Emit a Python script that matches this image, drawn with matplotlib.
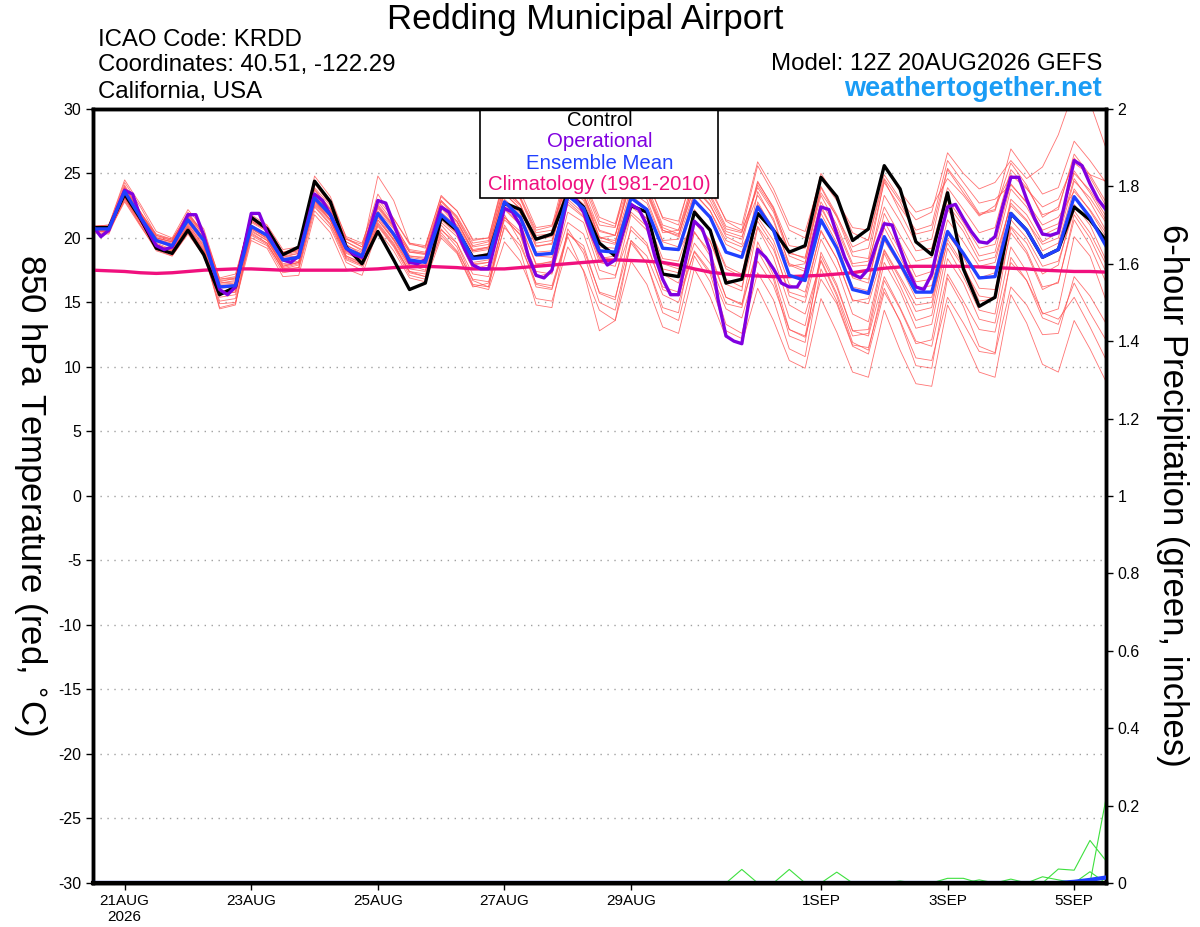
import numpy as np
import pandas as pd
import matplotlib
matplotlib.use('Agg')
import matplotlib.pyplot as plt
from matplotlib.patches import Rectangle

plt.rcParams['font.family'] = ['Liberation Sans', 'DejaVu Sans']
plt.rcParams['axes.unicode_minus'] = False

# ---------------- data (850 hPa temperature, deg C) ----------------
start = '2026-08-20 12:00'

control = [20.8, 20.8, 23.4, 21.5, 19.2, 18.8, 20.6, 18.7, 15.6, 16.2, 21.6, 20.7, 18.7, 19.3,
           24.4, 22.8, 19.3, 18.0, 20.5, 18.3, 16.0, 16.5, 21.6, 20.6, 18.5, 18.7, 22.7, 22.2,
           19.9, 20.3, 23.5, 22.4, 19.6, 18.6, 22.5, 22.0, 17.2, 17.0, 22.0, 20.6, 16.5, 16.8,
           21.9, 20.6, 18.9, 19.4, 24.7, 23.2, 19.8, 20.7, 25.6, 23.8, 19.7, 18.7, 23.5, 17.6,
           14.7, 15.4, 21.9, 20.6, 18.5, 19.1, 22.4, 21.4, 19.8]

# operational run is 3-hourly
operational = [20.9, 20.1, 20.6, 22.2, 23.7, 23.4, 21.6, 20.5, 19.4, 19.1, 19.3, 20.5, 21.8, 21.8,
               20.2, 18.0, 16.0, 15.6, 16.2, 19.0, 21.9, 21.9, 20.4, 19.3, 18.3, 18.1, 18.6, 21.0,
               23.4, 22.9, 21.8, 20.5, 19.2, 18.7, 18.5, 20.7, 22.9, 22.7, 21.1, 19.5, 18.1, 18.0,
               18.3, 20.3, 22.4, 22.0, 20.5, 19.1, 17.9, 17.6, 17.6, 20.0, 22.3, 22.0, 21.0, 18.6,
               17.1, 16.9, 17.5, 20.3, 23.2, 23.0, 22.0, 20.3, 18.9, 17.9, 18.3, 20.5, 22.6, 22.2,
               21.0, 18.6, 16.8, 15.6, 15.6, 18.5, 21.3, 20.7, 19.0, 15.2, 12.4, 12.0, 11.8, 15.5,
               19.1, 18.5, 17.6, 16.5, 16.2, 16.2, 17.2, 19.8, 22.4, 22.2, 20.3, 18.5, 17.2, 16.9,
               17.6, 19.5, 21.1, 21.0, 19.2, 17.5, 16.2, 16.0, 17.2, 20.0, 22.4, 22.6, 21.5, 20.5,
               19.7, 19.6, 20.1, 22.5, 24.7, 24.7, 23.0, 21.5, 20.3, 20.2, 20.4, 23.2, 26.0, 25.6,
               24.2, 23.0, 22.2]

ens_mean = [20.7, 20.7, 23.6, 21.6, 19.8, 19.4, 21.4, 19.8, 16.2, 16.3, 20.9, 20.2, 18.3, 18.5,
            23.1, 21.8, 19.2, 18.6, 21.9, 20.3, 18.3, 18.1, 21.8, 20.7, 18.4, 18.5, 22.8, 21.6,
            18.7, 18.8, 23.3, 22.3, 19.0, 18.9, 23.1, 22.2, 19.2, 19.1, 22.9, 21.6, 18.9, 18.5,
            22.4, 20.6, 17.1, 16.7, 21.4, 19.2, 16.0, 15.7, 20.1, 18.0, 15.8, 15.8, 20.5, 18.8,
            16.9, 17.0, 21.9, 20.6, 18.5, 19.1, 23.2, 21.6, 19.4]

climo = [17.5, 17.45, 17.4, 17.3, 17.25, 17.3, 17.4, 17.5, 17.55, 17.6, 17.6, 17.55, 17.5, 17.5,
         17.5, 17.5, 17.5, 17.55, 17.6, 17.7, 17.75, 17.8, 17.75, 17.7, 17.6, 17.6, 17.6, 17.7,
         17.8, 17.9, 18.0, 18.1, 18.2, 18.3, 18.25, 18.2, 18.1, 17.9, 17.6, 17.35, 17.2, 17.1,
         17.05, 17.0, 17.0, 17.05, 17.1, 17.2, 17.3, 17.5, 17.65, 17.75, 17.8, 17.8, 17.8, 17.8,
         17.75, 17.7, 17.65, 17.6, 17.5, 17.45, 17.4, 17.4, 17.35]

# ensemble members, one sublist per day (12Z start, then 00Z/06Z/12Z/18Z)
members = [
    [[20.9, 21.0], [24.3, 22.4, 20.2, 19.8], [22.0, 20.3, 16.6, 16.9], [21.6, 20.6, 18.9, 19.2], [24.2, 22.6, 19.9, 19.5], [23.4, 21.5, 19.6, 19.4], [23.2, 22.1, 19.8, 20.0], [24.6, 23.1, 20.4, 20.6], [25.3, 24.1, 21.0, 20.8], [25.8, 24.6, 21.5, 21.0], [25.6, 24.0, 21.3, 20.6], [25.6, 23.4, 20.6, 20.0], [25.0, 23.1, 20.4, 19.8], [24.6, 22.8, 20.3, 20.6], [25.4, 23.8, 21.9, 22.2], [26.9, 25.2, 23.4, 23.9], [27.5, 26.0, 24.3]],
    [[20.6, 20.6], [23.0, 21.2, 19.2, 18.9], [21.1, 19.3, 15.7, 15.8], [20.4, 19.6, 17.6, 17.7], [22.4, 21.0, 18.3, 17.8], [20.9, 19.3, 17.1, 16.8], [20.4, 19.0, 16.8, 16.6], [20.8, 19.4, 16.5, 16.3], [20.4, 19.1, 15.8, 15.4], [19.8, 18.6, 15.6, 15.0], [19.0, 17.4, 14.5, 13.8], [18.2, 16.3, 12.9, 12.3], [16.8, 14.9, 11.6, 11.0], [15.8, 13.6, 10.7, 10.5], [15.4, 13.4, 11.2, 11.0], [16.2, 14.8, 12.5, 12.6], [17.0, 15.5, 13.4]],
    [[20.5, 20.4], [23.9, 21.9, 20.2, 19.9], [21.8, 20.4, 16.9, 17.2], [21.6, 20.9, 18.9, 19.0], [23.8, 22.2, 19.5, 18.7], [22.3, 20.8, 18.9, 18.8], [22.9, 21.6, 19.4, 19.7], [24.0, 22.6, 19.9, 20.1], [24.7, 23.3, 20.0, 19.8], [22.7, 21.5, 18.0, 17.6], [21.3, 19.8, 16.4, 15.9], [22.8, 20.6, 17.8, 18.0], [23.9, 21.6, 18.6, 18.4], [24.5, 22.0, 19.6, 19.9], [25.3, 23.5, 21.8, 22.1], [25.8, 24.1, 21.6, 22.4], [26.2, 24.7, 22.5]],
    [[20.8, 20.9], [23.2, 21.4, 19.5, 19.0], [20.8, 19.1, 15.4, 15.6], [20.2, 19.5, 17.6, 17.9], [22.6, 21.3, 18.8, 18.3], [21.8, 20.1, 17.9, 17.5], [21.2, 20.1, 17.6, 17.9], [21.6, 20.5, 17.4, 17.2], [22.0, 21.2, 17.5, 17.1], [20.6, 19.4, 16.2, 15.8], [19.6, 18.0, 14.9, 14.6], [19.3, 17.6, 13.8, 13.2], [18.6, 16.2, 12.8, 12.4], [17.0, 14.6, 12.0, 11.6], [17.2, 15.1, 12.9, 12.7], [18.1, 16.7, 13.8, 13.3], [16.5, 14.2, 12.1]],
    [[20.6, 20.7], [23.4, 21.2, 19.6, 19.1], [21.2, 19.5, 15.9, 16.0], [20.8, 19.9, 17.8, 18.1], [22.9, 21.4, 18.4, 17.9], [21.2, 19.6, 17.4, 17.0], [20.2, 18.9, 16.3, 16.0], [19.7, 18.2, 15.3, 15.1], [19.3, 17.5, 14.4, 13.6], [18.2, 16.4, 13.1, 12.6], [17.6, 15.4, 12.3, 11.8], [16.1, 13.6, 10.5, 9.9], [15.3, 12.7, 9.6, 9.2], [14.4, 11.3, 8.7, 8.5], [14.8, 12.3, 9.6, 9.2], [15.6, 13.4, 10.2, 9.6], [13.6, 11.4, 8.9]],
    [[20.9, 20.9], [24.0, 22.0, 20.3, 19.9], [21.7, 20.2, 16.5, 16.7], [21.4, 20.7, 18.8, 19.0], [23.7, 22.3, 19.9, 19.3], [22.6, 21.0, 19.1, 18.9], [22.8, 21.5, 19.3, 19.5], [24.1, 23.0, 20.2, 20.3], [25.0, 23.7, 20.6, 20.2], [24.9, 23.8, 20.8, 20.3], [24.0, 22.6, 20.1, 19.5], [24.3, 22.4, 19.4, 19.2], [23.5, 21.7, 19.3, 19.9], [24.9, 23.0, 21.4, 22.0], [26.6, 25.0, 23.8, 24.3], [26.0, 24.6, 25.5, 28.0], [31.5, 30.5, 27.0]],
    [[20.7, 20.6], [23.7, 21.8, 19.9, 19.6], [21.6, 20.0, 16.4, 16.5], [21.0, 20.3, 18.5, 18.6], [23.0, 21.7, 19.0, 18.4], [22.0, 20.4, 18.5, 18.3], [22.3, 21.0, 18.9, 19.1], [23.4, 22.3, 19.4, 19.5], [24.5, 23.4, 20.1, 19.6], [23.9, 23.0, 19.8, 19.9], [23.5, 22.1, 19.8, 19.3], [21.6, 19.8, 16.4, 15.8], [20.5, 18.4, 15.2, 14.9], [19.1, 17.0, 14.8, 15.0], [20.3, 18.6, 16.9, 17.3], [23.0, 21.8, 19.7, 20.4], [24.6, 22.8, 20.6]],
    [[20.6, 20.5], [23.1, 21.0, 19.3, 18.8], [20.6, 19.0, 15.1, 15.3], [20.0, 19.4, 17.3, 17.5], [22.1, 20.8, 18.1, 17.5], [21.0, 19.4, 17.4, 17.2], [20.6, 19.6, 17.2, 17.0], [21.4, 20.3, 17.0, 17.3], [21.2, 20.3, 16.8, 16.9], [21.8, 20.6, 17.2, 16.5], [20.4, 18.9, 15.4, 14.8], [20.8, 18.5, 14.8, 14.1], [18.2, 15.5, 11.9, 11.3], [16.7, 14.5, 11.8, 12.1], [18.4, 16.5, 13.7, 13.4], [19.3, 17.4, 14.1, 14.5], [20.1, 18.6, 15.2]],
    [[20.8, 20.8], [23.5, 21.7, 20.0, 19.7], [21.9, 20.4, 16.8, 16.9], [21.3, 20.6, 18.7, 19.1], [23.9, 22.5, 19.7, 19.0], [24.8, 22.9, 19.6, 19.2], [22.9, 21.7, 19.6, 19.8], [24.4, 23.2, 20.6, 20.9], [25.7, 24.6, 21.6, 21.1], [25.4, 24.5, 21.6, 21.3], [25.2, 23.7, 21.4, 21.0], [25.9, 23.8, 21.0, 20.5], [24.6, 22.9, 20.8, 20.6], [25.6, 23.6, 22.0, 22.4], [24.6, 23.3, 21.7, 22.5], [24.9, 23.8, 22.4, 23.0], [25.8, 24.9, 24.4]],
    [[20.5, 20.5], [22.8, 20.9, 19.1, 18.6], [20.3, 18.6, 14.9, 15.0], [19.8, 19.2, 17.0, 17.1], [21.8, 20.4, 17.6, 17.1], [20.6, 19.0, 16.9, 16.6], [20.0, 18.8, 16.2, 16.5], [21.6, 20.2, 16.4, 16.1], [20.3, 19.4, 15.7, 15.2], [20.9, 19.6, 16.0, 15.5], [18.9, 17.2, 13.3, 12.6], [17.3, 15.2, 11.4, 10.8], [17.6, 15.1, 11.7, 11.5], [16.1, 13.5, 10.1, 9.9], [16.9, 14.7, 11.6, 11.1], [18.5, 16.7, 14.2, 13.7], [15.4, 13.1, 10.6]],
    [[20.7, 20.8], [23.8, 21.9, 20.0, 19.7], [21.5, 19.9, 16.3, 16.4], [21.2, 20.5, 18.6, 18.8], [23.4, 22.0, 19.4, 18.9], [22.1, 20.7, 18.6, 18.4], [22.0, 20.9, 18.6, 18.8], [23.0, 21.9, 18.9, 19.0], [23.8, 22.6, 19.3, 19.2], [23.6, 22.7, 19.7, 19.3], [23.4, 22.1, 19.5, 18.9], [22.6, 20.8, 17.2, 16.6], [21.9, 19.6, 16.2, 15.9], [20.8, 18.5, 16.1, 16.3], [21.4, 19.7, 17.8, 18.1], [22.7, 21.4, 19.0, 19.6], [23.8, 22.1, 20.1]],
    [[20.4, 20.3], [23.1, 21.3, 19.4, 19.0], [20.9, 19.0, 14.6, 14.9], [20.5, 19.8, 17.7, 18.0], [22.9, 21.6, 18.6, 18.0], [21.6, 19.9, 17.8, 17.7], [21.5, 20.4, 17.9, 18.1], [22.3, 21.1, 18.0, 18.1], [22.6, 21.6, 18.1, 17.8], [22.0, 20.9, 17.6, 17.3], [22.2, 20.6, 17.6, 17.0], [23.6, 21.3, 18.0, 17.6], [22.5, 20.0, 17.0, 16.8], [21.3, 19.0, 16.6, 16.8], [22.2, 20.5, 18.2, 18.5], [22.5, 21.3, 19.5, 20.0], [24.4, 23.1, 21.2]],
    [[20.9, 21.0], [24.5, 22.6, 20.5, 20.0], [22.2, 20.7, 16.8, 17.0], [21.8, 21.0, 19.1, 19.3], [24.4, 22.9, 20.1, 19.6], [23.0, 21.5, 19.5, 19.3], [23.3, 22.1, 19.9, 20.0], [24.8, 23.6, 20.8, 21.0], [24.2, 23.3, 20.5, 20.2], [24.3, 23.4, 20.4, 20.6], [24.8, 23.4, 20.9, 20.5], [23.9, 22.0, 18.6, 18.1], [22.8, 20.7, 17.8, 17.9], [23.3, 21.3, 19.0, 19.2], [23.9, 22.2, 20.4, 20.8], [25.3, 23.9, 21.8, 22.2], [26.5, 24.9, 22.8]],
    [[20.6, 20.6], [23.3, 21.3, 19.4, 19.1], [21.0, 19.4, 15.8, 15.9], [20.6, 19.8, 17.9, 18.1], [22.8, 21.4, 18.6, 18.1], [21.4, 19.8, 17.6, 17.4], [20.7, 19.3, 16.4, 16.2], [21.0, 19.0, 14.8, 14.6], [20.7, 18.8, 15.0, 14.4], [19.6, 18.0, 14.2, 13.6], [18.6, 16.6, 12.8, 12.2], [19.7, 17.1, 12.9, 12.4], [18.3, 15.7, 12.4, 12.6], [18.1, 15.9, 13.0, 13.3], [19.2, 17.0, 14.4, 14.1], [20.8, 19.0, 16.2, 16.5], [21.8, 20.0, 17.4]],
    [[20.8, 20.7], [23.6, 21.7, 19.9, 19.5], [21.3, 19.7, 16.1, 16.2], [20.9, 20.1, 18.2, 18.4], [22.9, 21.6, 19.0, 18.4], [21.7, 20.1, 18.1, 17.9], [21.6, 20.4, 18.1, 18.3], [22.6, 21.5, 18.6, 18.5], [22.8, 21.7, 18.4, 18.6], [22.4, 21.5, 18.4, 18.2], [22.0, 20.6, 17.8, 17.2], [21.3, 19.4, 15.5, 15.0], [19.9, 17.6, 14.1, 13.5], [19.0, 16.8, 14.3, 14.6], [20.4, 18.5, 16.1, 16.0], [20.9, 19.6, 17.2, 17.9], [22.6, 21.0, 18.3]],
    [[20.5, 20.5], [22.9, 21.0, 19.0, 18.6], [20.4, 18.9, 14.5, 14.8], [20.7, 20.0, 17.8, 18.1], [23.3, 22.0, 19.2, 18.8], [22.5, 20.9, 18.6, 18.5], [22.6, 21.3, 19.0, 19.3], [23.5, 22.2, 19.3, 19.6], [24.3, 23.1, 20.0, 20.2], [24.4, 23.5, 20.6, 20.2], [23.9, 22.5, 20.3, 19.9], [24.4, 22.3, 18.8, 18.5], [23.3, 21.0, 18.0, 18.2], [22.4, 20.2, 18.2, 18.5], [23.0, 21.2, 19.2, 19.5], [24.2, 22.7, 20.6, 21.1], [25.0, 23.7, 21.7]],
    [[20.7, 20.7], [23.5, 21.5, 19.7, 19.3], [21.4, 19.8, 16.2, 16.3], [20.7, 20.0, 18.0, 18.2], [22.7, 21.4, 18.9, 18.3], [21.4, 19.9, 17.9, 17.8], [21.4, 20.3, 18.0, 18.1], [22.2, 21.0, 17.9, 18.2], [23.0, 21.9, 18.5, 18.3], [23.3, 22.3, 19.2, 19.0], [21.2, 19.7, 16.8, 16.2], [20.9, 19.1, 15.8, 15.4], [20.6, 18.4, 15.1, 15.3], [19.8, 17.8, 15.3, 15.4], [19.6, 17.7, 15.5, 15.3], [21.4, 20.0, 17.8, 18.2], [22.1, 20.4, 18.0]],
    [[20.8, 20.9], [24.1, 22.0, 20.0, 19.7], [21.6, 20.0, 16.5, 16.6], [21.5, 20.8, 18.7, 18.9], [24.8, 23.2, 20.0, 19.3], [22.8, 21.2, 19.0, 18.8], [22.4, 21.2, 19.0, 19.2], [23.8, 22.6, 19.6, 19.8], [23.9, 22.9, 19.8, 19.5], [25.1, 24.1, 21.0, 20.6], [24.3, 22.9, 20.5, 20.1], [23.3, 21.5, 17.9, 17.4], [22.3, 20.1, 16.9, 16.5], [21.9, 19.6, 17.0, 17.4], [22.6, 20.9, 18.6, 18.9], [23.8, 22.4, 20.2, 20.8], [25.2, 23.5, 21.4]],
    [[20.6, 20.6], [23.2, 21.2, 19.5, 19.0], [20.9, 19.2, 15.6, 15.8], [20.3, 19.6, 17.5, 17.7], [22.5, 21.1, 18.5, 17.9], [21.1, 19.5, 17.3, 17.0], [21.0, 19.6, 16.7, 16.2], [21.8, 19.7, 16.2, 16.0], [20.1, 17.4, 12.8, 13.6], [19.8, 18.0, 14.6, 14.2], [20.5, 18.6, 15.4, 14.9], [19.0, 16.8, 12.4, 11.9], [18.9, 16.4, 12.8, 12.9], [18.8, 16.3, 13.6, 14.0], [19.9, 17.9, 15.1, 15.3], [20.4, 18.8, 16.0, 16.6], [21.4, 19.4, 16.6]],
    [[20.9, 20.8], [23.9, 22.0, 20.1, 19.8], [21.8, 20.2, 16.7, 16.8], [21.3, 20.6, 18.5, 18.8], [23.4, 22.2, 19.7, 19.1], [22.4, 20.9, 18.9, 18.7], [22.4, 21.3, 19.1, 19.3], [23.6, 22.5, 20.0, 20.3], [25.5, 24.4, 21.3, 20.9], [24.8, 23.7, 20.6, 20.1], [24.6, 23.2, 20.7, 20.4], [24.1, 22.2, 18.9, 18.4], [24.0, 21.8, 18.9, 19.2], [24.3, 22.4, 20.6, 21.0], [26.0, 24.3, 22.7, 23.0], [24.1, 22.8, 21.0, 21.6], [23.6, 22.2, 20.4]],
]

# 6-hour precipitation (inches): nonzero steps of each member, keyed by 6h step index
pcp_member_steps = [
    {18: 0.004}, {41: 0.035}, {44: 0.035}, {47: 0.028}, {51: 0.005},
    {54: 0.012, 55: 0.012}, {56: 0.008}, {58: 0.010}, {60: 0.016, 61: 0.008},
    {61: 0.036, 62: 0.033, 63: 0.110, 64: 0.058}, {63: 0.029}, {64: 0.215},
]
pcp_mean_steps = {62: 0.003, 63: 0.008, 64: 0.014}

tick_dates = ['2026-08-21', '2026-08-23', '2026-08-25', '2026-08-27', '2026-08-29',
              '2026-09-01', '2026-09-03', '2026-09-05']
tick_labels = ['21AUG\n2026', '23AUG', '25AUG', '27AUG', '29AUG', '1SEP', '3SEP', '5SEP']
prcp_ticks = [0, 0.2, 0.4, 0.6, 0.8, 1, 1.2, 1.4, 1.6, 1.8, 2]
prcp_labels = ['0', '0.2', '0.4', '0.6', '0.8', '1', '1.2', '1.4', '1.6', '1.8', '2']

# ---------------- plotting ----------------
t6 = pd.date_range(start, periods=len(control), freq='6h')
t3 = pd.date_range(start, periods=len(operational), freq='3h')

fig = plt.figure(figsize=(12, 9.27), dpi=100)
ax = fig.add_axes([0.0775, 0.0475, 0.844, 0.835])
ax2 = ax.twinx()

for m in members:
    vals = sum(m, [])
    ax.plot(t6, vals, color='#ff5050', lw=0.6, alpha=0.8, zorder=2)

ax.plot(t6, climo, color='#f0107e', lw=2.4, zorder=3)
ax.plot(t6, control, color='black', lw=2.4, zorder=4)
ax.plot(t3, operational, color='#8000e0', lw=2.4, zorder=5)
ax.plot(t6, ens_mean, color='#2040ff', lw=2.4, zorder=6)

ax.set_xlim(t6[0], t6[-1])
ax.set_ylim(-30, 30)
ax.set_yticks(np.arange(-30, 31, 5))
for yv in range(-25, 30, 5):
    ax.axhline(yv, color='#a0a0a0', lw=1.0, ls=(0, (1, 4)), zorder=1)

ax.set_xticks(pd.to_datetime(tick_dates))
ax.set_xticklabels(tick_labels, fontsize=11)
ax.tick_params(axis='y', labelsize=11.5, length=5, width=1)
ax.tick_params(axis='x', length=5, width=1, pad=3)

# precipitation on the right axis
zeros = np.zeros(len(t6))
for d in pcp_member_steps:
    p = zeros.copy()
    for k, v in d.items():
        p[k] = v
    ax2.plot(t6, p, color='#3ee03e', lw=0.8, zorder=2)
pm = zeros.copy()
for k, v in pcp_mean_steps.items():
    pm[k] = v
ax2.plot(t6, pm, color='#2040ff', lw=3, zorder=3)
ax2.plot(t6, zeros, color='black', lw=3, zorder=4, clip_on=False)
ax2.set_ylim(0, 2)
ax2.set_yticks(prcp_ticks)
ax2.set_yticklabels(prcp_labels)
ax2.tick_params(axis='y', labelsize=11.5, length=5, width=1)

for a in (ax, ax2):
    for s in a.spines.values():
        s.set_linewidth(2.5)

# legend box
ax.add_patch(Rectangle((0.382, 0.885), 0.235, 0.115, transform=ax.transAxes,
                       fc='white', ec='black', lw=1.2, zorder=20))
leg = [('Control', 'black', 0.9845), ('Operational', '#8000e0', 0.9574),
       ('Ensemble Mean', '#2040ff', 0.930), ('Climatology (1981-2010)', '#f0107e', 0.9018)]
for txt, c, yy in leg:
    ax.text(0.5, yy, txt, color=c, fontsize=14.7, ha='center', va='center',
            transform=ax.transAxes, zorder=21)

# header texts
fig.text(0.488, 0.979, 'Redding Municipal Airport', fontsize=25, ha='center', va='center')
fig.text(0.0817, 0.9569, 'ICAO Code: KRDD', fontsize=17.3, ha='left', va='center')
fig.text(0.0817, 0.9299, 'Coordinates: 40.51, -122.29', fontsize=17.3, ha='left', va='center')
fig.text(0.0817, 0.9008, 'California, USA', fontsize=17.3, ha='left', va='center')
fig.text(0.9183, 0.931, 'Model: 12Z 20AUG2026 GEFS', fontsize=17.3, ha='right', va='center')
fig.text(0.9183, 0.904, 'weathertogether.net', fontsize=19.5, ha='right', va='center',
         color='#1a9cf5', fontweight='bold')

fig.text(0.025, 0.466, '850 hPa Temperature (red, $^{\\circ}$C)', fontsize=25,
         rotation=-90, ha='center', va='center')
fig.text(0.977, 0.466, '6-hour Precipitation (green, inches)', fontsize=25,
         rotation=-90, ha='center', va='center')

fig.savefig('out.png', dpi=100)
